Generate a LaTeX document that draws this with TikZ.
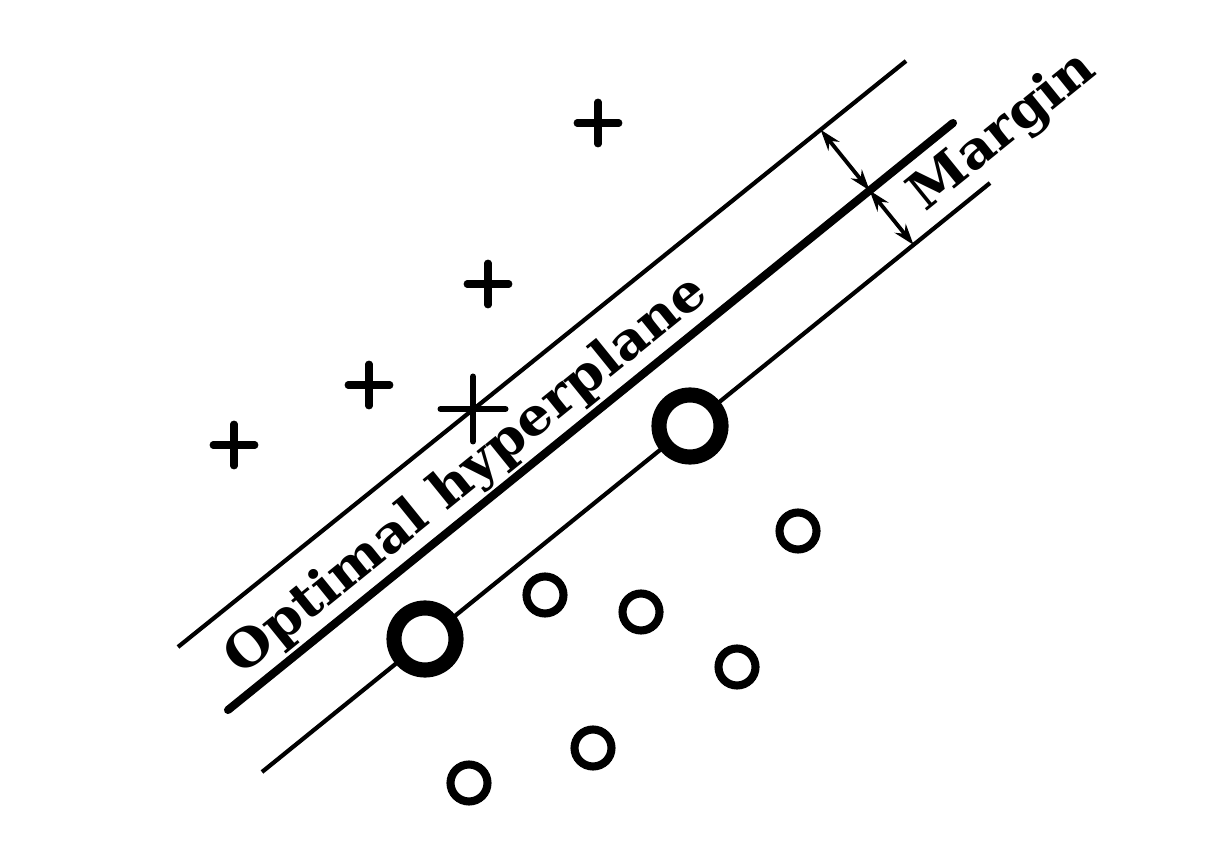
\documentclass[tikz,border=0pt]{standalone}
\usepackage{fontspec}
\setmainfont{DejaVu Serif}[FakeStretch=1.05]
\usetikzlibrary{calc,arrows.meta,shapes.misc}
\begin{document}
\begin{tikzpicture}[
    thinline/.style={line width=1.2pt},
    thickline/.style={line width=2.3pt, line cap=round},
    posmark/.style={cross out, draw, rotate=45, inner sep=0pt, minimum size=0.225cm, line width=2pt, line cap=round},
    possupport/.style={cross out, draw, rotate=45, inner sep=0pt, minimum size=0.40cm, line width=1.7pt, line cap=round},
    negmark/.style={circle, draw, inner sep=0pt, minimum size=0.37cm, line width=2.3pt},
    negsupport/.style={circle, draw, fill=white, inner sep=0pt, minimum size=0.62cm, line width=4.3pt},
    marginarrow/.style={{Stealth[length=6pt,width=4pt]}-{Stealth[length=6pt,width=4pt]}, line width=1.1pt},
    labeltext/.style={font=\bfseries\fontsize{14.7}{17}\selectfont, inner sep=1.5pt}
]
    \useasboundingbox (0,0) rectangle (12.19,8.66);
    % Margin lines and optimal hyperplane
    \coordinate (u1) at (1.78,2.19);
    \coordinate (u2) at (9.06,8.05);
    \coordinate (h1) at (2.28,1.56);
    \coordinate (h2) at (9.53,7.43);
    \coordinate (l1) at (2.62,0.94);
    \coordinate (l2) at (9.90,6.83);
    \draw[thinline] (u1) -- (u2);
    \draw[thickline] (h1) -- (h2);
    \draw[thinline] (l1) -- (l2);
    % Positive class
    \node[posmark] (p1) at (5.98,7.43) {};
    \node[posmark] (p2) at (4.88,5.82) {};
    \node[posmark] (p3) at (3.69,4.81) {};
    \node[posmark] (p4) at (2.34,4.21) {};
    \node[possupport] (ps) at (4.73,4.57) {};
    % Negative class
    \node[negmark] (n1) at (7.98,3.35) {};
    \node[negmark] (n2) at (5.45,2.71) {};
    \node[negmark] (n3) at (6.41,2.54) {};
    \node[negmark] (n4) at (7.37,1.99) {};
    \node[negmark] (n5) at (5.93,1.18) {};
    \node[negmark] (n6) at (4.69,0.83) {};
    \node[negsupport] (ns1) at (6.90,4.40) {};
    \node[negsupport] (ns2) at (4.25,2.27) {};
    % Margin arrows
    \coordinate (mm) at ($(h1)!0.885!(h2)$);
    \coordinate (mu) at ($(u1)!(mm)!(u2)$);
    \coordinate (ml) at ($(l1)!(mm)!(l2)$);
    \draw[marginarrow] (mu) -- (mm);
    \draw[marginarrow] (mm) -- (ml);
    % Labels
    \node[labeltext, rotate=39, anchor=south] (hyp) at ($(h1)!0.357!(h2)$) {Optimal hyperplane};
    \node[labeltext, rotate=39, anchor=base] (margin) at (10.12,7.23) {Margin};
\end{tikzpicture}
\end{document}
